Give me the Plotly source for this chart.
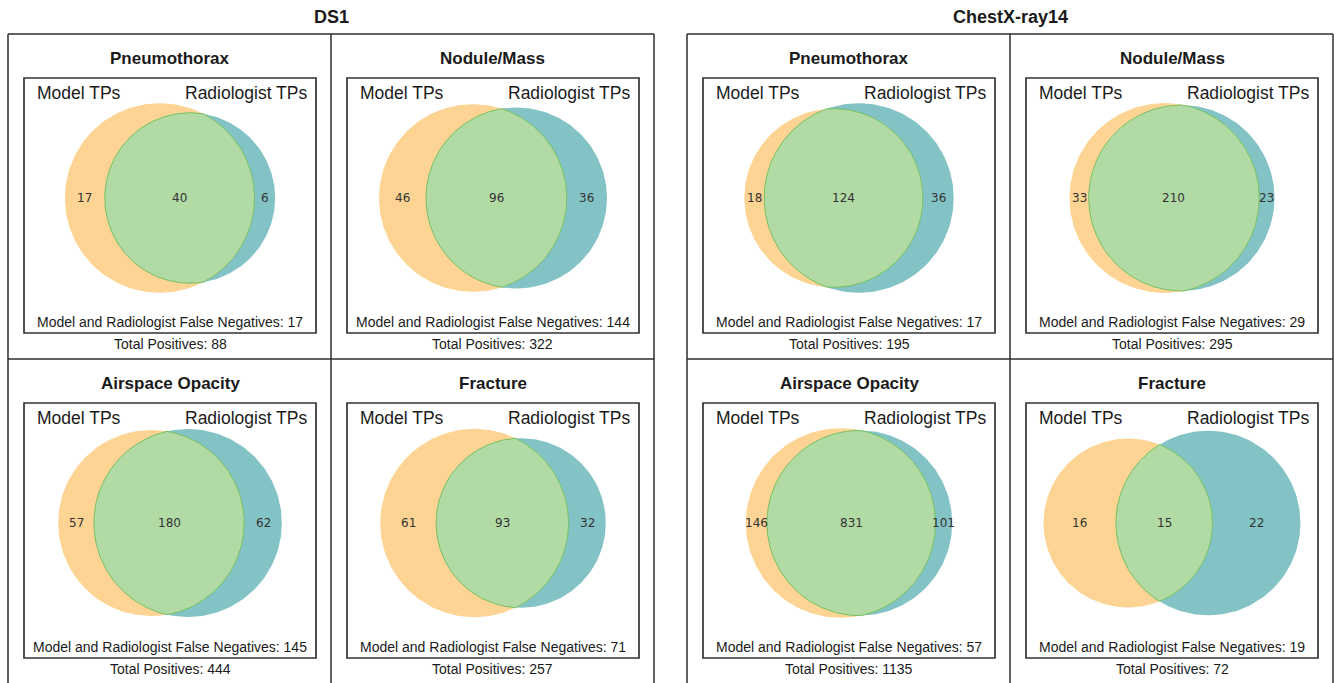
import numpy as np
import plotly.graph_objects as go

W_FIG, H_FIG = 1334, 683

group_titles = ["DS1", "ChestX-ray14"]
findings = ["Pneumothorax", "Nodule/Mass", "Airspace Opacity", "Fracture"]
set_labels = ["Model TPs", "Radiologist TPs"]

# DS1 counts per finding
ds1_model_only = [17, 46, 57, 61]
ds1_both = [40, 96, 180, 93]
ds1_rad_only = [6, 36, 62, 32]
ds1_false_neg = [17, 144, 145, 71]
ds1_total_pos = [88, 322, 444, 257]

# ChestX-ray14 counts per finding
cxr_model_only = [18, 33, 146, 16]
cxr_both = [124, 210, 831, 15]
cxr_rad_only = [36, 23, 101, 22]
cxr_false_neg = [17, 29, 57, 19]
cxr_total_pos = [195, 295, 1135, 72]

groups = [
    (ds1_model_only, ds1_both, ds1_rad_only, ds1_false_neg, ds1_total_pos),
    (cxr_model_only, cxr_both, cxr_rad_only, cxr_false_neg, cxr_total_pos),
]

ORANGE = "#FDD493"
TEAL = "#84C3C5"
GREEN = "#B2DAA5"
GREEN_EDGE = "#78C260"
BOX = "#2e2e2e"
TEXT = "#1a1a1a"
LABEL_FONT = "Liberation Sans, Arial, sans-serif"
NUM_FONT = "DejaVu Sans, sans-serif"

# layout (pixels)
GROUP_LEFT = [8, 687]
GROUP_W = 646
CELL_W = 323
ROW_TOP = [34, 359]
PAD = 0.1
VENN_W = 296
VENN_H = 225


def fx(x):
    return x / W_FIG


def fy(y):
    return 1 - y / H_FIG


def lens_area(r1, r2, d):
    if d >= r1 + r2:
        return 0.0
    if d <= abs(r1 - r2):
        return np.pi * min(r1, r2) ** 2
    a1 = r1 ** 2 * np.arccos((d * d + r1 * r1 - r2 * r2) / (2 * d * r1))
    a2 = r2 ** 2 * np.arccos((d * d + r2 * r2 - r1 * r1) / (2 * d * r2))
    a3 = 0.5 * np.sqrt((-d + r1 + r2) * (d + r1 - r2) * (d - r1 + r2) * (d + r1 + r2))
    return a1 + a2 - a3


def solve_d(r1, r2, target):
    lo, hi = abs(r1 - r2) + 1e-9, r1 + r2
    for _ in range(200):
        mid = (lo + hi) / 2
        if lens_area(r1, r2, mid) > target:
            lo = mid
        else:
            hi = mid
    return (lo + hi) / 2


fig = go.Figure()
shapes = []
annotations = []
layout_axes = {}


def line(x0, y0, x1, y1, color=BOX, width=1.5):
    shapes.append(dict(type="line", xref="paper", yref="paper",
                       x0=fx(x0), y0=fy(y0), x1=fx(x1), y1=fy(y1),
                       line=dict(color=color, width=width)))


def text(x, y, s, size, bold=False, xanchor="center", family=LABEL_FONT):
    annotations.append(dict(xref="paper", yref="paper", x=fx(x), y=fy(y),
                            text=f"<b>{s}</b>" if bold else s, showarrow=False,
                            xanchor=xanchor, yanchor="middle",
                            font=dict(size=size, family=family, color=TEXT)))


theta = np.linspace(0, 2 * np.pi, 240)
ax_i = 0
for g in range(2):
    gl = GROUP_LEFT[g]
    # group title
    text(gl + GROUP_W / 2, 17, group_titles[g], 18, bold=True)
    # outer frame
    line(gl, 34, gl + GROUP_W, 34)
    line(gl, 34, gl, 690)
    line(gl + GROUP_W, 34, gl + GROUP_W, 690)
    line(gl + CELL_W, 34, gl + CELL_W, 690)
    line(gl, 359, gl + GROUP_W, 359)
    mo, bo, ro, fn, tp = groups[g]
    for f in range(4):
        r, c = divmod(f, 2)
        cl = gl + c * CELL_W
        ct = ROW_TOP[r]
        il, ir = cl + 16, cl + CELL_W - 15
        it, ib = ct + 44, ct + 299
        icx = (il + ir) / 2
        shapes.append(dict(type="rect", xref="paper", yref="paper",
                           x0=fx(il), x1=fx(ir), y0=fy(it), y1=fy(ib),
                           line=dict(color="#333333", width=1.7)))
        text(icx, ct + 24, findings[f], 17, bold=True)
        text(il + 11, it + 15, set_labels[0], 17.5, xanchor="left")
        text(ir - 7, it + 15, set_labels[1], 17.5, xanchor="right")
        text(icx, ib - 11, f"Model and Radiologist False Negatives: {fn[f]}", 14)
        text(icx, ib + 11, f"Total Positives: {tp[f]}", 14)

        # venn geometry (area proportional)
        a, b, cnt = mo[f], ro[f], bo[f]
        tot = a + b + cnt
        A = (a + cnt) / tot
        B = (b + cnt) / tot
        AB = cnt / tot
        rA, rB = np.sqrt(A / np.pi), np.sqrt(B / np.pi)
        d = solve_d(rA, rB, AB)
        xmin = min(-rA, d - rB)
        xmax = max(rA, d + rB)
        ymax = max(rA, rB)
        bw, bh = xmax - xmin, 2 * ymax
        k = min(VENN_W / (bw + 2 * PAD), VENN_H / (bh + 2 * PAD))
        cx = (xmin + xmax) / 2
        ycen = ct + 164
        ax_i += 1
        xa = "x" if ax_i == 1 else f"x{ax_i}"
        ya = "y" if ax_i == 1 else f"y{ax_i}"
        xkey = "xaxis" if ax_i == 1 else f"xaxis{ax_i}"
        ykey = "yaxis" if ax_i == 1 else f"yaxis{ax_i}"
        layout_axes[xkey] = dict(domain=[fx(icx - VENN_W / 2), fx(icx + VENN_W / 2)],
                                 range=[cx - VENN_W / (2 * k), cx + VENN_W / (2 * k)],
                                 visible=False, fixedrange=True, anchor=ya)
        layout_axes[ykey] = dict(domain=[fy(ycen + VENN_H / 2), fy(ycen - VENN_H / 2)],
                                 range=[-VENN_H / (2 * k), VENN_H / (2 * k)],
                                 visible=False, fixedrange=True, anchor=xa)

        fig.add_trace(go.Scatter(x=rA * np.cos(theta), y=rA * np.sin(theta),
                                 xaxis=xa, yaxis=ya, mode="lines", fill="toself",
                                 fillcolor=ORANGE, line=dict(width=0, color=ORANGE),
                                 hoverinfo="skip", showlegend=False))
        fig.add_trace(go.Scatter(x=d + rB * np.cos(theta), y=rB * np.sin(theta),
                                 xaxis=xa, yaxis=ya, mode="lines", fill="toself",
                                 fillcolor=TEAL, line=dict(width=0, color=TEAL),
                                 hoverinfo="skip", showlegend=False))
        x0 = (d * d + rA * rA - rB * rB) / (2 * d)
        h = np.sqrt(max(rA * rA - x0 * x0, 0))
        tA = np.arctan2(h, x0)
        tB = np.arctan2(h, d - x0)
        arcA = np.linspace(-tA, tA, 160)
        arcB = np.linspace(np.pi - tB, np.pi + tB, 160)
        lx = np.concatenate([rA * np.cos(arcA), d + rB * np.cos(arcB)])
        ly = np.concatenate([rA * np.sin(arcA), rB * np.sin(arcB)])
        fig.add_trace(go.Scatter(x=lx, y=ly, xaxis=xa, yaxis=ya, mode="lines",
                                 fill="toself", fillcolor=GREEN,
                                 line=dict(width=1, color=GREEN_EDGE),
                                 hoverinfo="skip", showlegend=False))
        # subset labels at the middle of each region along the centre line
        lA, lB, rAe, rBe = -rA, d - rB, rA, d + rB
        pos = [(lA + lB) / 2, (lB + rAe) / 2, (rAe + rBe) / 2]
        for val, p in zip([a, cnt, b], pos):
            annotations.append(dict(xref=xa, yref=ya, x=p, y=0, text=str(val),
                                    showarrow=False, xanchor="center", yanchor="middle",
                                    font=dict(size=12, family=NUM_FONT, color="#333333")))

fig.update_layout(
    width=W_FIG, height=H_FIG,
    margin=dict(l=0, r=0, t=0, b=0),
    paper_bgcolor="white", plot_bgcolor="rgba(0,0,0,0)",
    shapes=shapes, annotations=annotations, showlegend=False,
    **layout_axes,
)
fig.write_html("out.html")
